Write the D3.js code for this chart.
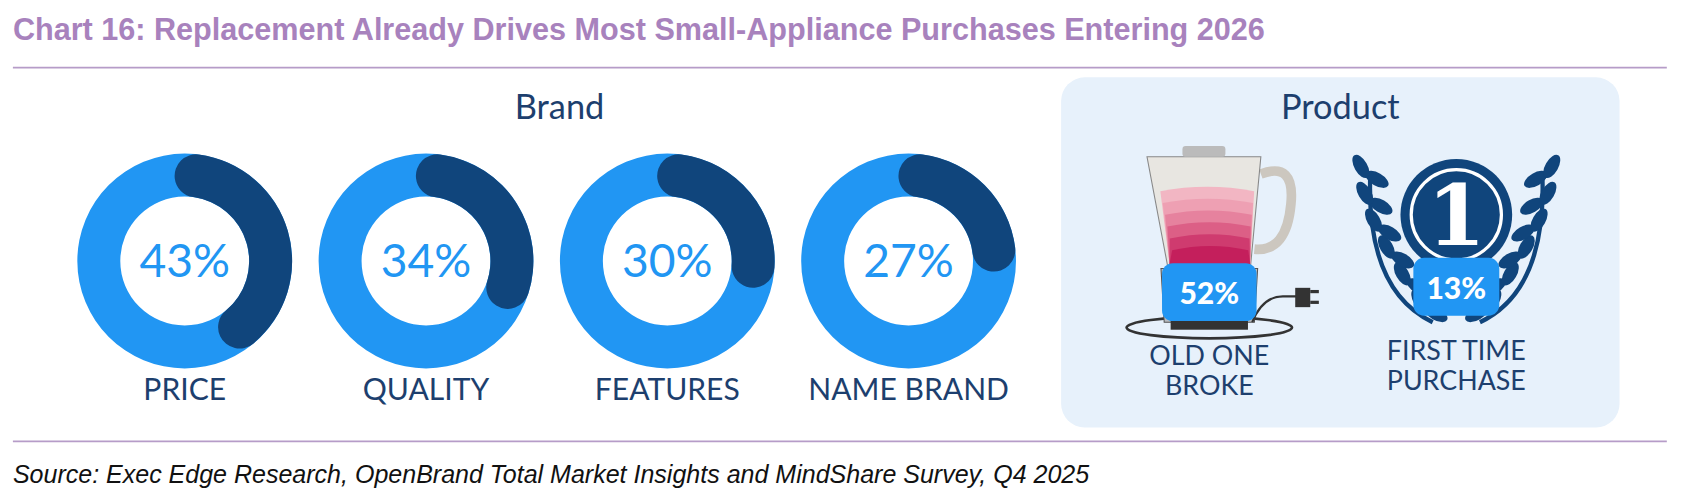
<!DOCTYPE html>
<html><head><meta charset="utf-8">
<script src="https://cdn.jsdelivr.net/npm/d3@7"></script>
<style>body{margin:0;background:#fff}svg{display:block}</style>
</head><body><svg id="c" width="1684" height="493"></svg>
<script>
// brand drivers
const brandLabels = ['PRICE', 'QUALITY', 'FEATURES', 'NAME BRAND'];
const brandValues = [43, 34, 30, 27];
// product drivers
const productLabels = [['OLD ONE', 'BROKE'], ['FIRST TIME', 'PURCHASE']];
const productValues = [52, 13];

// layout measured on a 1568-wide view, scaled up to the page
const svg = d3.select('#c').append('g').attr('transform', `scale(${1684 / 1568})`);
const light = '#2196f3', dark = '#10457c', navy = '#1d3f6e';
const font = 'Lato, "Open Sans", sans-serif';

svg.append('text').attr('x', 12).attr('y', 37)
  .attr('font-family', 'Liberation Sans, Arial').attr('font-weight', 'bold')
  .attr('font-size', 28.5).attr('fill', '#a882bd')
  .text('Chart 16: Replacement Already Drives Most Small-Appliance Purchases Entering 2026');
svg.append('line').attr('x1', 12).attr('x2', 1552).attr('y1', 63).attr('y2', 63).attr('stroke', '#b69cc8').attr('stroke-width', 1.5);
svg.append('line').attr('x1', 12).attr('x2', 1552).attr('y1', 411).attr('y2', 411).attr('stroke', '#b69cc8').attr('stroke-width', 1.5);
svg.append('text').attr('x', 12).attr('y', 450)
  .attr('font-family', 'Liberation Sans, Arial').attr('font-style', 'italic')
  .attr('font-size', 23.3).attr('fill', '#111')
  .text('Source: Exec Edge Research, OpenBrand Total Market Insights and MindShare Survey, Q4 2025');

svg.append('text').attr('x', 521).attr('y', 111).attr('text-anchor', 'middle')
  .attr('font-family', font).attr('font-size', 32).attr('fill', navy).text('Brand');

const x = d3.scalePoint().domain(brandLabels).range([172, 846]);
const ang = d3.scaleLinear().domain([0, 100]).range([0, 2 * Math.PI]);
const arc = d3.arc().innerRadius(60).outerRadius(100);
const g = svg.selectAll('g.donut').data(brandLabels).join('g')
  .attr('transform', d => `translate(${x(d)},243)`);
g.append('path').attr('fill', light).attr('d', arc({startAngle: 0, endAngle: 2 * Math.PI}));
g.append('path').attr('fill', dark)
  .attr('d', (d, i) => arc.cornerRadius(20)({startAngle: -0.12, endAngle: ang(brandValues[i])}));
g.append('text').attr('text-anchor', 'middle').attr('y', 15)
  .attr('font-family', font).attr('font-size', 43).attr('fill', light)
  .text((d, i) => brandValues[i] + '%');
g.append('text').attr('text-anchor', 'middle').attr('y', 129)
  .attr('font-family', font).attr('font-size', 28).attr('fill', navy).text(d => d);

// product panel
svg.append('rect').attr('x', 988).attr('y', 72).attr('width', 520).attr('height', 326).attr('rx', 22).attr('fill', '#e7f1fb');
svg.append('text').attr('x', 1248).attr('y', 111).attr('text-anchor', 'middle')
  .attr('font-family', font).attr('font-size', 32).attr('fill', navy).text('Product');

// blender icon
const b = svg.append('g').attr('transform', 'translate(1126,0)');
b.append('ellipse').attr('cx', 0).attr('cy', 305).attr('rx', 77).attr('ry', 10).attr('fill', 'none').attr('stroke', '#333').attr('stroke-width', 2.5);
b.append('path').attr('d', 'M-45,250 L-42,300 L42,300 L45,250 Z').attr('fill', '#b9bcc0').attr('stroke', '#555');
b.append('rect').attr('x', -35).attr('y', 250).attr('width', 25).attr('height', 50).attr('fill', '#d8dadc');
b.append('rect').attr('x', -36).attr('y', 298).attr('width', 72).attr('height', 9).attr('fill', '#333');
b.append('path').attr('d', 'M48,162 Q80,150 76,190 Q72,235 42,232').attr('fill', 'none').attr('stroke', '#ccc7bf').attr('stroke-width', 9);
b.append('path').attr('d', 'M-58,146 L48,146 L38,252 L-38,252 Z').attr('fill', '#e8e6e1').attr('stroke', '#888').attr('stroke-width', 1);
const pinks = ['#f2b6c3', '#eea0b3', '#e6829e', '#dc5f86', '#cf3b6f', '#c41f5c'];
pinks.forEach((c, i) => {
  const y0 = 178 + i * 11;
  const l = -52 + (y0 - 146) * 0.2, r = 45 - (y0 - 146) * 0.1;
  b.append('path').attr('d', `M${l},${y0} Q${(l + r) / 2},${y0 - 8} ${r},${y0} L38,246 L-37,246 Z`).attr('fill', c);
});
b.append('rect').attr('x', -40).attr('y', 248).attr('width', 80).attr('height', 6).attr('fill', '#333');
b.append('rect').attr('x', -25).attr('y', 136).attr('width', 40).attr('height', 10).attr('rx', 3).attr('fill', '#bbb');
b.append('path').attr('d', 'M40,300 Q50,275 70,276 L82,276').attr('fill', 'none').attr('stroke', '#333').attr('stroke-width', 2);
b.append('rect').attr('x', 80).attr('y', 268).attr('width', 14).attr('height', 18).attr('fill', '#333');
b.append('rect').attr('x', 94).attr('y', 270).attr('width', 8).attr('height', 3).attr('fill', '#333');
b.append('rect').attr('x', 94).attr('y', 280).attr('width', 8).attr('height', 3).attr('fill', '#333');

// laurel medal icon
const m = svg.append('g').attr('transform', 'translate(1356,0)');
[-1, 1].forEach(s => {
  m.append('path').attr('d', `M${s * 22},300 Q${s * 85},270 ${s * 80},160`).attr('fill', 'none').attr('stroke', dark).attr('stroke-width', 4);
  d3.range(6).forEach(k => {
    const t = k / 5, px = s * (30 + 55 * Math.sin(t * 1.5)), py = 292 - t * 125;
    m.append('ellipse').attr('cx', px - s * 11).attr('cy', py).attr('rx', 12).attr('ry', 6)
      .attr('transform', `rotate(${s * -30},${px - s * 11},${py})`).attr('fill', dark);
    m.append('ellipse').attr('cx', px + s * 4).attr('cy', py - 12).attr('rx', 6).attr('ry', 12)
      .attr('transform', `rotate(${s * 30},${px + s * 4},${py - 12})`).attr('fill', dark);
  });
});
m.append('circle').attr('cx', 0).attr('cy', 200).attr('r', 52).attr('fill', dark);
m.append('circle').attr('cx', 0).attr('cy', 200).attr('r', 42).attr('fill', 'none').attr('stroke', '#fff').attr('stroke-width', 3);
m.append('text').attr('x', 0).attr('y', 228).attr('text-anchor', 'middle').attr('font-family', 'DejaVu Serif, serif')
  .attr('font-weight', 'bold').attr('font-size', 78).attr('fill', '#fff').text('1');

// badges and labels
const px = [1126, 1356], by = [273, 268];
productValues.forEach((v, i) => {
  const w = i === 0 ? 88 : 80;
  svg.append('rect').attr('x', px[i] - w / 2).attr('y', by[i] - 28).attr('width', w).attr('height', 54).attr('rx', 10).attr('fill', light);
  svg.append('text').attr('x', px[i]).attr('y', by[i] + 10).attr('text-anchor', 'middle')
    .attr('font-family', font).attr('font-weight', 900).attr('font-size', 28).attr('fill', '#fff').text(v + '%');
  productLabels[i].forEach((t, j) => svg.append('text').attr('x', px[i]).attr('y', (i === 0 ? 340 : 335) + j * 28)
    .attr('text-anchor', 'middle').attr('font-family', font).attr('font-size', 25).attr('fill', navy).text(t));
});
</script></body></html>
